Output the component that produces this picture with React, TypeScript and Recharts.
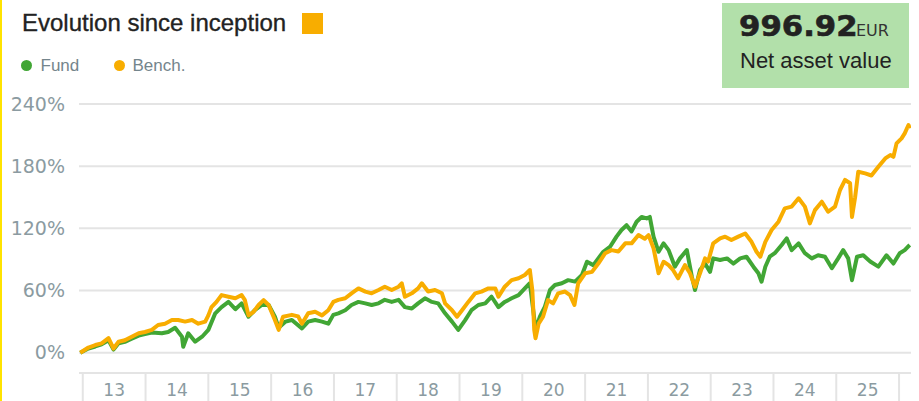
import React from "react";
import { LineChart, Line, XAxis, YAxis, CartesianGrid } from "recharts";

// year fractions, values in % since inception
const benchDates = [
  2012.96, 2013.09, 2013.2, 2013.3, 2013.41, 2013.49, 2013.57, 2013.67, 2013.78, 2013.89,
  2013.99, 2014.1, 2014.2, 2014.31, 2014.42, 2014.52, 2014.63, 2014.74, 2014.84, 2014.95,
  2015.0, 2015.05, 2015.13, 2015.21, 2015.32, 2015.43, 2015.53, 2015.58, 2015.64, 2015.72,
  2015.8, 2015.88, 2015.96, 2016.06, 2016.12, 2016.19, 2016.33, 2016.43, 2016.49, 2016.59,
  2016.7, 2016.81, 2016.91, 2016.99, 2017.07, 2017.18, 2017.28, 2017.39, 2017.5, 2017.6,
  2017.71, 2017.81, 2017.92, 2018.03, 2018.08, 2018.13, 2018.24, 2018.34, 2018.4, 2018.5,
  2018.61, 2018.72, 2018.77, 2018.88, 2018.96, 2019.04, 2019.14, 2019.25, 2019.35, 2019.46,
  2019.57, 2019.62, 2019.72, 2019.83, 2019.94, 2020.04, 2020.12, 2020.16, 2020.19, 2020.21,
  2020.26, 2020.33, 2020.41, 2020.49, 2020.57, 2020.68, 2020.76, 2020.83, 2020.89, 2021.0,
  2021.11, 2021.21, 2021.32, 2021.42, 2021.53, 2021.64, 2021.74, 2021.85, 2021.95, 2022.01,
  2022.09, 2022.17, 2022.25, 2022.33, 2022.4, 2022.48, 2022.59, 2022.67, 2022.75, 2022.83,
  2022.91, 2022.96, 2023.04, 2023.15, 2023.23, 2023.33, 2023.44, 2023.55, 2023.65, 2023.73,
  2023.79, 2023.87, 2023.97, 2024.08, 2024.18, 2024.29, 2024.4, 2024.5, 2024.58, 2024.66,
  2024.77, 2024.87, 2024.98, 2025.06, 2025.14, 2025.22, 2025.25, 2025.3, 2025.35, 2025.46,
  2025.56, 2025.67, 2025.78, 2025.86, 2025.91, 2025.96, 2026.04, 2026.09, 2026.15, 2026.17,
];
const benchValues = [
  0, 5, 7.4, 9, 14, 4, 10.6, 12, 15.4, 18.7,
  20, 22, 26.7, 28, 31.5, 31.5, 30, 31.5, 28, 30,
  36, 44, 49, 55.6, 54, 52.5, 55.6, 51, 36, 39.5,
  46, 50.8, 46, 31.5, 22, 34.7, 36.5, 35, 28, 38,
  39.5, 36, 41, 49, 51, 52.5, 57.3, 62, 59, 57.3,
  60.5, 63.7, 60.5, 63.7, 67, 54, 57.3, 62, 67, 59,
  60.5, 57.3, 47.6, 41, 34.7, 41, 49, 57.3, 59, 62,
  62, 54, 63.7, 70, 71.8, 75, 79.8, 60, 22, 13.9,
  28, 34.7, 50.8, 47.6, 57.3, 59, 55.6, 46, 67, 76.6,
  78, 86, 96, 99, 97.6, 105.5, 105.5, 113.5, 110, 113.5,
  100.7, 76.6, 87.8, 84.5, 79.8, 71.8, 84.5, 76.6, 63.7, 76.6,
  91, 88, 105.5, 110.3, 112, 108.7, 112, 115, 107, 97.4,
  92.6, 107, 118.4, 126.4, 139.3, 141, 149, 141, 124.8, 137.6,
  145.7, 136, 141, 157, 166.7, 163.5, 131, 150, 174.6, 173,
  171, 179.4, 187.5, 190.7, 189, 202, 206.8, 211.6, 219.7, 216.5,
];

const fundDates = [
  2012.96, 2013.09, 2013.2, 2013.3, 2013.41, 2013.49, 2013.57, 2013.67, 2013.78, 2013.89,
  2013.99, 2014.1, 2014.26, 2014.36, 2014.47, 2014.58, 2014.6, 2014.68, 2014.79, 2014.9,
  2015.0, 2015.11, 2015.21, 2015.32, 2015.43, 2015.53, 2015.64, 2015.74, 2015.85, 2015.96,
  2016.06, 2016.12, 2016.23, 2016.33, 2016.49, 2016.59, 2016.7, 2016.81, 2016.91, 2016.99,
  2017.07, 2017.18, 2017.28, 2017.39, 2017.5, 2017.6, 2017.71, 2017.81, 2017.92, 2018.03,
  2018.13, 2018.24, 2018.34, 2018.45, 2018.56, 2018.66, 2018.77, 2018.88, 2018.98, 2019.09,
  2019.19, 2019.3, 2019.41, 2019.51, 2019.62, 2019.72, 2019.83, 2019.94, 2020.04, 2020.12,
  2020.18, 2020.21, 2020.28, 2020.36, 2020.44, 2020.52, 2020.63, 2020.73, 2020.84, 2020.95,
  2021.03, 2021.13, 2021.21, 2021.29, 2021.4, 2021.5, 2021.58, 2021.66, 2021.74, 2021.82,
  2021.9, 2021.98, 2022.03, 2022.09, 2022.17, 2022.25, 2022.33, 2022.43, 2022.51, 2022.62,
  2022.7, 2022.75, 2022.83, 2022.91, 2022.99, 2023.04, 2023.15, 2023.26, 2023.36, 2023.47,
  2023.57, 2023.68, 2023.76, 2023.81, 2023.87, 2023.94, 2024.02, 2024.13, 2024.21, 2024.29,
  2024.4, 2024.5, 2024.61, 2024.71, 2024.82, 2024.93, 2025.03, 2025.11, 2025.19, 2025.25,
  2025.33, 2025.43, 2025.54, 2025.67, 2025.8, 2025.91, 2026.01, 2026.09, 2026.17,
];
const fundValues = [
  0, 4, 6, 8, 12, 3, 9, 10.5, 13.5, 16.5,
  18, 19.5, 18.7, 20, 24, 15.4, 5.8, 18.7, 10.6, 15.4,
  22, 38, 44, 49, 42, 47.6, 34.7, 41, 46, 46,
  34.7, 24, 30, 31.5, 23.5, 30, 31.5, 30, 28, 36.5,
  38, 41, 46, 49, 47.6, 46, 47.6, 51, 49, 51,
  44, 42.6, 47.6, 52.5, 49, 47.6, 38, 30, 22, 31.5,
  41, 46, 47.6, 54, 44, 49, 52.5, 55.6, 62, 67,
  38, 22, 34.7, 44.4, 60.5, 65.3, 67, 70, 68.6, 75,
  87.8, 84.5, 91, 97.4, 102.5, 112, 118.4, 123, 117, 126.4,
  131, 129.6, 131, 112, 97.4, 105.5, 99, 83, 91, 99,
  73.4, 60.5, 79.8, 86, 78, 91, 89.4, 91, 86, 91,
  92.6, 83, 76.6, 68.5, 83, 92.6, 96, 104, 110.3, 99,
  105.5, 96, 91, 94, 92.6, 81.5, 91, 99, 91, 70,
  92.6, 94, 88, 83, 94, 86, 96, 99, 104,
];

const yearTicks = [2013, 2014, 2015, 2016, 2017, 2018, 2019, 2020, 2021, 2022, 2023, 2024, 2025, 2026];
const pctTicks = [0, 60, 120, 180, 240];

const GREEN = "#41a635";
const ORANGE = "#f8ad00";
const AXIS_GREY = "#8b9ba1";
const LINE_GREY = "#e4e4e4";

const T_MIN = 2012.94;
const T_MAX = 2026.19;
const PLOT_LEFT = 79;
const PLOT_RIGHT = 911;
const YEAR_PX = (PLOT_RIGHT - PLOT_LEFT) / (T_MAX - T_MIN);

const fundData = fundDates.map((t, i) => ({ t, v: fundValues[i] }));
const benchData = benchDates.map((t, i) => ({ t, v: benchValues[i] }));

function YearTick(props: any) {
  const { x, y, payload } = props;
  const yr = payload.value;
  return (
    <g>
      <line x1={x} x2={x} y1={y} y2={y + 28} stroke={LINE_GREY} strokeWidth={2} />
      {yr < 2026 && (
        <text
          x={x + YEAR_PX / 2}
          y={y + 22.7}
          textAnchor="middle"
          fill={AXIS_GREY}
          fontSize={17}
          fontFamily="DejaVu Sans"
        >
          {String(yr).slice(2)}
        </text>
      )}
    </g>
  );
}

export default function App() {
  return (
    <div
      style={{
        position: "fixed",
        left: 0,
        top: 0,
        width: 919,
        height: 401,
        background: "#fff",
        overflow: "hidden",
        fontFamily: '"Liberation Sans", Arial, sans-serif',
      }}
    >
      <div style={{ position: "absolute", left: 0, top: 0 }}>
        <LineChart width={919} height={401} margin={{ top: 104, right: 8, bottom: 0, left: 0 }}>
          <CartesianGrid vertical={false} stroke={LINE_GREY} strokeWidth={2} />
          <XAxis
            dataKey="t"
            type="number"
            domain={[T_MIN, T_MAX]}
            allowDataOverflow
            ticks={yearTicks}
            interval={0}
            height={28}
            tickSize={0}
            tickMargin={0}
            tickLine={false}
            axisLine={{ stroke: LINE_GREY, strokeWidth: 2 }}
            tick={<YearTick />}
          />
          <YAxis
            type="number"
            domain={[-19.6, 240]}
            allowDataOverflow
            ticks={pctTicks}
            width={79}
            tickSize={0}
            tickMargin={14}
            axisLine={false}
            tickLine={false}
            tick={{ fill: AXIS_GREY, fontSize: 19, fontFamily: "DejaVu Sans" }}
            tickFormatter={(v: number) => `${v}%`}
          />
          <Line
            data={fundData}
            dataKey="v"
            type="linear"
            stroke={GREEN}
            strokeWidth={4}
            strokeLinejoin="round"
            dot={false}
            isAnimationActive={false}
          />
          <Line
            data={benchData}
            dataKey="v"
            type="linear"
            stroke={ORANGE}
            strokeWidth={4}
            strokeLinejoin="round"
            dot={false}
            isAnimationActive={false}
          />
        </LineChart>
      </div>

      {/* yellow edge on the left */}
      <div style={{ position: "absolute", left: 0, top: 0, width: 2, height: 401, background: "#ffe300" }} />

      {/* title */}
      <div
        style={{
          position: "absolute",
          left: 22,
          top: 11,
          fontSize: 24,
          lineHeight: "24px",
          color: "#222",
          whiteSpace: "nowrap",
          WebkitTextStroke: "0.35px #222",
        }}
      >
        Evolution since inception
      </div>
      <div style={{ position: "absolute", left: 302, top: 13, width: 21, height: 21, background: ORANGE }} />

      {/* legend */}
      <div style={{ position: "absolute", left: 21, top: 60, width: 11, height: 11, borderRadius: "50%", background: GREEN }} />
      <div style={{ position: "absolute", left: 40.5, top: 57.3, fontSize: 17, lineHeight: "17px", color: "#74858c" }}>
        Fund
      </div>
      <div style={{ position: "absolute", left: 113.5, top: 60, width: 11, height: 11, borderRadius: "50%", background: ORANGE }} />
      <div style={{ position: "absolute", left: 132.5, top: 57.3, fontSize: 17, lineHeight: "17px", color: "#74858c" }}>
        Bench.
      </div>

      {/* net asset value box */}
      <div style={{ position: "absolute", left: 722, top: 3, width: 187, height: 85, background: "#b2e0aa" }} />
      <div
        style={{
          position: "absolute",
          left: 739,
          top: 11.8,
          fontSize: 29,
          lineHeight: "29px",
          fontWeight: 700,
          fontFamily: "DejaVu Sans",
          color: "#222",
          whiteSpace: "nowrap",
          transform: "scaleX(1.06)",
          transformOrigin: "left top",
          WebkitTextStroke: "0.6px #222",
        }}
      >
        996.92
      </div>
      <div
        style={{
          position: "absolute",
          left: 856,
          top: 23,
          fontSize: 16,
          lineHeight: "16px",
          fontFamily: "DejaVu Sans",
          color: "#333",
        }}
      >
        EUR
      </div>
      <div
        style={{
          position: "absolute",
          left: 740,
          top: 49.7,
          fontSize: 22,
          lineHeight: "22px",
          color: "#222",
          whiteSpace: "nowrap",
        }}
      >
        Net asset value
      </div>
    </div>
  );
}
